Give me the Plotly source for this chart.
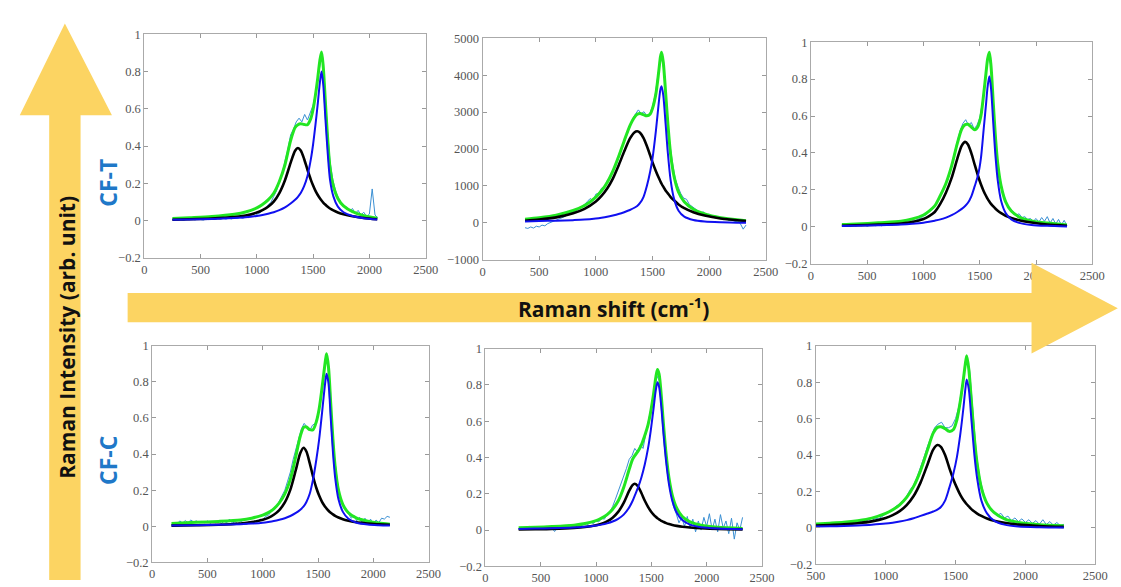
import plotly.graph_objects as go

# ---------------- data ----------------
# Panel 1: CF-T, left
x1_fit = [250, 400, 600, 800, 900, 1000, 1050, 1100, 1150, 1200, 1250, 1300, 1340, 1365, 1390, 1420, 1450, 1480, 1500, 1520, 1540, 1560, 1575, 1590, 1610, 1630, 1650, 1680, 1720, 1770, 1850, 1950, 2070]
d1 = [0.005, 0.007, 0.011, 0.019, 0.027, 0.043, 0.056, 0.074, 0.102, 0.148, 0.217, 0.31, 0.375, 0.39, 0.376, 0.331, 0.273, 0.219, 0.188, 0.161, 0.139, 0.12, 0.108, 0.097, 0.085, 0.074, 0.065, 0.055, 0.044, 0.034, 0.023, 0.014, 0.007]
g1 = [0.004, 0.006, 0.009, 0.014, 0.018, 0.025, 0.03, 0.037, 0.045, 0.056, 0.071, 0.092, 0.112, 0.128, 0.148, 0.185, 0.24, 0.33, 0.41, 0.51, 0.62, 0.74, 0.80, 0.73, 0.54, 0.36, 0.22, 0.13, 0.075, 0.045, 0.025, 0.013, 0.006]
s1 = [0.012, 0.016, 0.022, 0.034, 0.046, 0.068, 0.086, 0.111, 0.147, 0.21, 0.30, 0.43, 0.50, 0.515, 0.52, 0.516, 0.515, 0.549, 0.598, 0.671, 0.759, 0.86, 0.905, 0.827, 0.625, 0.434, 0.285, 0.185, 0.119, 0.079, 0.048, 0.027, 0.013]
x1_raw = list(range(250, 2076, 25))
r1 = [0.004, 0.008, 0.003, 0.006, 0.002, 0.007, 0.005, 0.009, 0.004, 0.008, 0.006, 0.003, 0.009, 0.005, 0.010, 0.006, 0.011, 0.007, 0.012, 0.008,
      0.013, 0.009, 0.015, 0.011, 0.017, 0.013, 0.020, 0.016, 0.026, 0.022, 0.034, 0.040, 0.055, 0.062, 0.085, 0.098, 0.13, 0.160, 0.21, 0.25,
      0.32, 0.38, 0.46, 0.49, 0.53, 0.55, 0.53, 0.57, 0.54, 0.58, 0.62, 0.69, 0.78, 0.89, 0.76, 0.50, 0.32, 0.22, 0.16, 0.12,
      0.095, 0.075, 0.072, 0.052, 0.065, 0.038, 0.055, 0.03, 0.045, 0.022, 0.035, 0.17, 0.03, 0.015]

# Panel 2: CF-T, middle
x2_fit = [375, 500, 650, 800, 900, 1000, 1050, 1100, 1150, 1200, 1250, 1300, 1340, 1365, 1390, 1420, 1450, 1480, 1500, 1530, 1555, 1570, 1580, 1595, 1615, 1635, 1660, 1690, 1730, 1780, 1860, 1960, 2100, 2325]
d2 = [60, 90, 150, 260, 380, 580, 730, 930, 1200, 1550, 1930, 2280, 2450, 2480, 2440, 2300, 2080, 1820, 1640, 1400, 1220, 1120, 1060, 980, 880, 800, 700, 610, 500, 400, 290, 200, 120, 50]
g2 = [40, 50, 60, 75, 90, 120, 140, 165, 200, 240, 290, 350, 410, 460, 540, 700, 1000, 1400, 1750, 2500, 3250, 3620, 3700, 3450, 2700, 1900, 1150, 650, 330, 170, 80, 40, 20, 5]
s2 = [100, 140, 210, 335, 470, 700, 870, 1095, 1400, 1790, 2220, 2630, 2860, 2940, 2960, 2930, 2900, 2950, 3100, 3500, 4100, 4500, 4620, 4350, 3550, 2700, 1850, 1260, 830, 570, 370, 240, 140, 60]
x2_raw = list(range(375, 2326, 25))
r2 = [-130, -150, -110, -140, -90, -110, -60, -80, -20, 10, 40, 80, 110, 150, 170, 220, 250, 300, 340, 390,
      440, 500, 580, 660, 600, 780, 800, 940, 960, 1150, 1200, 1420, 1540, 1760, 1980, 2200, 2430, 2650, 2820, 2950,
      3060, 2960, 3010, 2900, 2960, 3150, 3500, 4050, 4550, 4150, 3080, 2200, 1650, 1200, 980, 790, 670, 640, 500, 440,
      380, 340, 270, 300, 210, 240, 150, 200, 120, 150, 90, 130, 60, 100, 30, 50, -20, -170, -60]

# Panel 3: CF-T, right
x3_fit = [275, 400, 600, 800, 900, 1000, 1050, 1100, 1150, 1200, 1250, 1300, 1340, 1370, 1395, 1425, 1455, 1485, 1510, 1535, 1555, 1570, 1585, 1600, 1620, 1640, 1660, 1690, 1730, 1780, 1860, 1960, 2100, 2275]
d3 = [0.006, 0.008, 0.012, 0.018, 0.026, 0.042, 0.058, 0.08, 0.125, 0.186, 0.265, 0.368, 0.44, 0.46, 0.446, 0.399, 0.336, 0.275, 0.23, 0.193, 0.168, 0.151, 0.137, 0.124, 0.11, 0.098, 0.087, 0.074, 0.06, 0.048, 0.034, 0.023, 0.012, 0.006]
g3 = [0.004, 0.005, 0.008, 0.012, 0.016, 0.022, 0.027, 0.033, 0.04, 0.05, 0.063, 0.08, 0.097, 0.113, 0.13, 0.165, 0.22, 0.28, 0.37, 0.53, 0.66, 0.76, 0.815, 0.75, 0.56, 0.38, 0.25, 0.14, 0.075, 0.04, 0.02, 0.01, 0.005, 0.002]
s3 = [0.012, 0.015, 0.022, 0.03, 0.042, 0.064, 0.085, 0.113, 0.17, 0.236, 0.33, 0.45, 0.53, 0.553, 0.555, 0.54, 0.525, 0.545, 0.60, 0.72, 0.83, 0.91, 0.945, 0.87, 0.67, 0.48, 0.34, 0.22, 0.135, 0.085, 0.05, 0.032, 0.02, 0.01]
x3_raw = list(range(275, 2276, 25))
r3 = [0.012, 0.005, 0.015, 0.002, 0.01, 0.004, 0.012, 0.006, 0.011, 0.003, 0.009, 0.014, 0.006, 0.012, 0.005, 0.015, 0.008, 0.014, 0.01, 0.018,
      0.012, 0.02, 0.016, 0.025, 0.022, 0.032, 0.03, 0.042, 0.045, 0.058, 0.065, 0.08, 0.092, 0.112, 0.135, 0.165, 0.2, 0.235, 0.285, 0.33,
      0.40, 0.46, 0.52, 0.56, 0.58, 0.55, 0.565, 0.53, 0.55, 0.59, 0.68, 0.81, 0.93, 0.87, 0.61, 0.41, 0.28, 0.2, 0.15, 0.11,
      0.095, 0.08, 0.065, 0.07, 0.05, 0.055, 0.04, 0.045, 0.03, 0.045, 0.025, 0.05, 0.03, 0.055, 0.02, 0.045, 0.015, 0.04, 0.01, 0.035, 0.005]

# Panel 4: CF-C, left
x4_fit = [175, 400, 600, 800, 900, 1000, 1050, 1100, 1150, 1200, 1250, 1300, 1340, 1370, 1395, 1425, 1455, 1485, 1510, 1535, 1555, 1570, 1578, 1595, 1615, 1635, 1655, 1685, 1725, 1775, 1850, 1950, 2050, 2150]
d4 = [0.004, 0.006, 0.009, 0.016, 0.023, 0.036, 0.047, 0.064, 0.09, 0.132, 0.203, 0.313, 0.406, 0.435, 0.414, 0.35, 0.276, 0.212, 0.17, 0.137, 0.117, 0.104, 0.098, 0.086, 0.075, 0.066, 0.058, 0.049, 0.039, 0.031, 0.022, 0.016, 0.011, 0.009]
g4 = [0.004, 0.006, 0.008, 0.012, 0.015, 0.02, 0.024, 0.029, 0.036, 0.045, 0.057, 0.074, 0.092, 0.11, 0.135, 0.18, 0.26, 0.37, 0.48, 0.62, 0.74, 0.82, 0.845, 0.79, 0.6, 0.41, 0.27, 0.15, 0.08, 0.042, 0.02, 0.01, 0.006, 0.004]
s4 = [0.016, 0.022, 0.027, 0.035, 0.045, 0.062, 0.076, 0.097, 0.13, 0.18, 0.26, 0.39, 0.5, 0.548, 0.55, 0.535, 0.535, 0.58, 0.65, 0.76, 0.86, 0.93, 0.955, 0.88, 0.68, 0.48, 0.33, 0.2, 0.12, 0.075, 0.045, 0.028, 0.018, 0.012]
x4_raw = list(range(175, 2151, 25))
r4 = [0.01, 0.02, 0.012, 0.03, 0.018, 0.032, 0.02, 0.035, 0.024, 0.03, 0.018, 0.028, 0.02, 0.03, 0.017, 0.025, 0.02, 0.03, 0.015, 0.028,
      0.02, 0.04, 0.018, 0.025, 0.015, 0.028, 0.02, 0.012, 0.025, 0.015, 0.03, 0.022, 0.04, 0.035, 0.055, 0.06, 0.08, 0.1, 0.11, 0.14,
      0.17, 0.2, 0.25, 0.3, 0.37, 0.43, 0.48, 0.54, 0.57, 0.55, 0.53, 0.56, 0.57, 0.62, 0.71, 0.83, 0.94, 0.83, 0.57, 0.38,
      0.25, 0.16, 0.12, 0.085, 0.07, 0.045, 0.06, 0.03, 0.05, 0.02, 0.045, 0.015, 0.04, 0.01, 0.035, 0.02, 0.045, 0.04, 0.055, 0.05]

# Panel 5: CF-C, middle
x5_fit = [300, 450, 600, 800, 900, 1000, 1050, 1100, 1150, 1200, 1250, 1300, 1330, 1350, 1380, 1410, 1440, 1470, 1495, 1520, 1540, 1555, 1570, 1590, 1610, 1635, 1660, 1690, 1730, 1780, 1850, 1950, 2100, 2325]
d5 = [0.003, 0.0045, 0.0064, 0.0116, 0.017, 0.027, 0.035, 0.048, 0.068, 0.1, 0.15, 0.217, 0.248, 0.255, 0.24, 0.204, 0.163, 0.128, 0.104, 0.085, 0.073, 0.065, 0.059, 0.051, 0.045, 0.038, 0.033, 0.028, 0.023, 0.018, 0.014, 0.01, 0.006, 0.004]
g5 = [0.006, 0.008, 0.01, 0.014, 0.018, 0.025, 0.03, 0.037, 0.047, 0.062, 0.085, 0.125, 0.16, 0.19, 0.235, 0.29, 0.36, 0.45, 0.55, 0.67, 0.77, 0.815, 0.79, 0.68, 0.53, 0.37, 0.25, 0.16, 0.095, 0.055, 0.03, 0.016, 0.009, 0.005]
s5 = [0.012, 0.015, 0.019, 0.027, 0.036, 0.052, 0.066, 0.085, 0.115, 0.16, 0.235, 0.335, 0.39, 0.41, 0.435, 0.47, 0.52, 0.58, 0.655, 0.75, 0.84, 0.885, 0.86, 0.74, 0.58, 0.41, 0.285, 0.19, 0.12, 0.075, 0.045, 0.026, 0.015, 0.009]
x5_raw = list(range(300, 2326, 25))
r5 = [0.008, 0.015, 0.005, 0.012, 0.02, 0.01, 0.016, 0.006, 0.018, 0.01, 0.02, 0.004, 0.012, -0.008, 0.015, 0.005, 0.02, 0.012, 0.028, 0.015,
      0.03, 0.02, 0.035, 0.022, 0.04, 0.03, 0.045, 0.035, 0.05, 0.045, 0.065, 0.06, 0.085, 0.1, 0.13, 0.17, 0.21, 0.26, 0.29, 0.34,
      0.39, 0.41, 0.45, 0.43, 0.47, 0.45, 0.53, 0.6, 0.68, 0.77, 0.85, 0.82, 0.67, 0.47, 0.3, 0.2, 0.13, 0.09, 0.04, 0.07,
      0.02, 0.075, 0.01, 0.06, -0.01, 0.05, 0.0, 0.07, 0.02, 0.09, 0.0, 0.06, -0.01, 0.085, 0.01, 0.05, -0.02, 0.065, -0.05, 0.04, 0.0, 0.07]

# Panel 6: CF-C, right
x6_fit = [500, 600, 700, 800, 900, 1000, 1050, 1100, 1150, 1200, 1250, 1300, 1340, 1370, 1395, 1425, 1455, 1485, 1510, 1535, 1555, 1570, 1580, 1595, 1615, 1635, 1655, 1685, 1725, 1775, 1850, 1950, 2100, 2275]
d6 = [0.013, 0.016, 0.02, 0.026, 0.036, 0.055, 0.07, 0.092, 0.125, 0.175, 0.25, 0.35, 0.43, 0.455, 0.445, 0.4, 0.33, 0.265, 0.22, 0.18, 0.155, 0.14, 0.13, 0.118, 0.102, 0.09, 0.079, 0.066, 0.052, 0.04, 0.028, 0.018, 0.011, 0.006]
g6 = [0.008, 0.009, 0.011, 0.014, 0.018, 0.024, 0.029, 0.035, 0.043, 0.053, 0.066, 0.079, 0.09, 0.1, 0.115, 0.15, 0.22, 0.3, 0.39, 0.52, 0.65, 0.76, 0.815, 0.76, 0.58, 0.4, 0.27, 0.15, 0.08, 0.04, 0.018, 0.008, 0.004, 0.002]
s6 = [0.022, 0.026, 0.031, 0.04, 0.054, 0.08, 0.1, 0.127, 0.168, 0.228, 0.316, 0.43, 0.52, 0.552, 0.555, 0.545, 0.53, 0.54, 0.595, 0.7, 0.81, 0.9, 0.945, 0.87, 0.68, 0.49, 0.35, 0.22, 0.135, 0.085, 0.05, 0.03, 0.018, 0.012]
x6_raw = list(range(500, 2276, 25))
r6 = [0.012, 0.02, 0.008, 0.018, 0.015, 0.025, 0.012, 0.022, 0.018, 0.03, 0.02, 0.032, 0.028, 0.038, 0.032, 0.045, 0.04, 0.052, 0.05, 0.065,
      0.075, 0.09, 0.1, 0.12, 0.13, 0.155, 0.175, 0.21, 0.235, 0.28, 0.33, 0.39, 0.45, 0.5, 0.55, 0.57, 0.58, 0.55, 0.55, 0.56,
      0.6, 0.67, 0.79, 0.92, 0.87, 0.61, 0.4, 0.27, 0.19, 0.13, 0.1, 0.085, 0.07, 0.08, 0.055, 0.065, 0.04, 0.055, 0.035, 0.05,
      0.03, 0.045, 0.025, 0.04, 0.02, 0.045, 0.018, 0.035, 0.015, 0.03, 0.012, 0.02]

x_ticks_a = [0, 500, 1000, 1500, 2000, 2500]
x_ticks_b = [500, 1000, 1500, 2000, 2500]
y_ticks_norm = [-0.2, 0, 0.2, 0.4, 0.6, 0.8, 1]
y_ticks_abs = [-1000, 0, 1000, 2000, 3000, 4000, 5000]

row_labels = ["CF-T", "CF-C"]
y_title = "Raman Intensity (arb. unit)"
x_title = "Raman shift (cm<sup>-1</sup>)"

panels = [
    dict(xr=x1_raw, r=r1, xf=x1_fit, d=d1, g=g1, s=s1, xt=x_ticks_a, yt=y_ticks_norm),
    dict(xr=x2_raw, r=r2, xf=x2_fit, d=d2, g=g2, s=s2, xt=x_ticks_a, yt=y_ticks_abs),
    dict(xr=x3_raw, r=r3, xf=x3_fit, d=d3, g=g3, s=s3, xt=x_ticks_a, yt=y_ticks_norm),
    dict(xr=x4_raw, r=r4, xf=x4_fit, d=d4, g=g4, s=s4, xt=x_ticks_a, yt=y_ticks_norm),
    dict(xr=x5_raw, r=r5, xf=x5_fit, d=d5, g=g5, s=s5, xt=x_ticks_a, yt=y_ticks_norm),
    dict(xr=x6_raw, r=r6, xf=x6_fit, d=d6, g=g6, s=s6, xt=x_ticks_b, yt=y_ticks_norm),
]

# ---------------- layout geometry (pixels) ----------------
W, H = 1121, 587
frames = [(138, 425, 28, 257), (483, 772, 32, 259), (818, 1105, 36, 263),
          (146, 428, 347, 569), (486, 768, 350, 573), (823, 1108, 347, 571)]

def px(x):
    return x / W

def py(y):
    return 1 - y / H

fig = go.Figure()
layout = dict(width=W, height=H, margin=dict(l=0, r=0, t=0, b=0),
              paper_bgcolor="white", plot_bgcolor="white", showlegend=False)

tickfont = dict(family="Liberation Serif", size=12.5, color="#555555")

for i, (p, fr) in enumerate(zip(panels, frames)):
    k = "" if i == 0 else str(i + 1)
    xa, ya = "x" + k, "y" + k
    fig.add_trace(go.Scatter(x=p["xr"], y=p["r"], mode="lines", xaxis=xa, yaxis=ya,
                             line=dict(color="#3a8fd3", width=1)))
    fig.add_trace(go.Scatter(x=p["xf"], y=p["s"], mode="lines", xaxis=xa, yaxis=ya,
                             line=dict(color="#22e622", width=3, shape="spline", smoothing=0.8)))
    fig.add_trace(go.Scatter(x=p["xf"], y=p["d"], mode="lines", xaxis=xa, yaxis=ya,
                             line=dict(color="#000000", width=2.6, shape="spline", smoothing=0.8)))
    fig.add_trace(go.Scatter(x=p["xf"], y=p["g"], mode="lines", xaxis=xa, yaxis=ya,
                             line=dict(color="#1010f0", width=2, shape="spline", smoothing=0.8)))
    x0, x1, y0, y1 = fr
    xt, yt = p["xt"], p["yt"]
    layout["xaxis" + k] = dict(domain=[px(x0), px(x1)], range=[xt[0], xt[-1]], anchor=ya,
                               tickvals=xt, ticks="inside", ticklen=4, tickcolor="#999999",
                               showline=True, linecolor="#aaaaaa", linewidth=1, mirror="ticks",
                               showgrid=False, zeroline=False, tickfont=tickfont, fixedrange=True)
    layout["yaxis" + k] = dict(domain=[py(y1), py(y0)], range=[yt[0], yt[-1]], anchor=xa,
                               tickvals=yt, ticks="inside", ticklen=4, tickcolor="#999999",
                               showline=True, linecolor="#aaaaaa", linewidth=1, mirror="ticks",
                               showgrid=False, zeroline=False, tickfont=tickfont, fixedrange=True)

# arrows
yellow = "#FCD462"
def path(pts):
    return "M " + " L ".join(f"{px(a):.5f},{py(b):.5f}" for a, b in pts) + " Z"

v_arrow = [(41, 587), (41, 111), (11, 111), (57, 17), (105, 111), (73, 111), (73, 587)]
h_arrow = [(121, 293), (1043, 293), (1043, 262), (1131, 308.5), (1043, 355), (1043, 323), (121, 323)]
layout["shapes"] = [
    dict(type="path", xref="paper", yref="paper", path=path(v_arrow), fillcolor=yellow, line=dict(width=0), layer="above"),
    dict(type="path", xref="paper", yref="paper", path=path(h_arrow), fillcolor=yellow, line=dict(width=0), layer="above"),
]

def lab_font(size, color):
    return dict(family="Open Sans", size=size, color=color, weight="bold")

layout["annotations"] = [
    dict(text=y_title, x=px(59), y=py(338), xref="paper", yref="paper", textangle=-90,
         showarrow=False, font=lab_font(21, "#111111"), xanchor="center", yanchor="middle"),
    dict(text=x_title, x=px(617), y=py(308), xref="paper", yref="paper",
         showarrow=False, font=lab_font(21, "#111111"), xanchor="center", yanchor="middle"),
    dict(text=row_labels[0], x=px(101), y=py(180), xref="paper", yref="paper", textangle=-90,
         showarrow=False, font=lab_font(23, "#1f78c8"), xanchor="center", yanchor="middle"),
    dict(text=row_labels[1], x=px(101), y=py(465), xref="paper", yref="paper", textangle=-90,
         showarrow=False, font=lab_font(23, "#1f78c8"), xanchor="center", yanchor="middle"),
]

fig.update_layout(**layout)
fig.write_html("out.html")
